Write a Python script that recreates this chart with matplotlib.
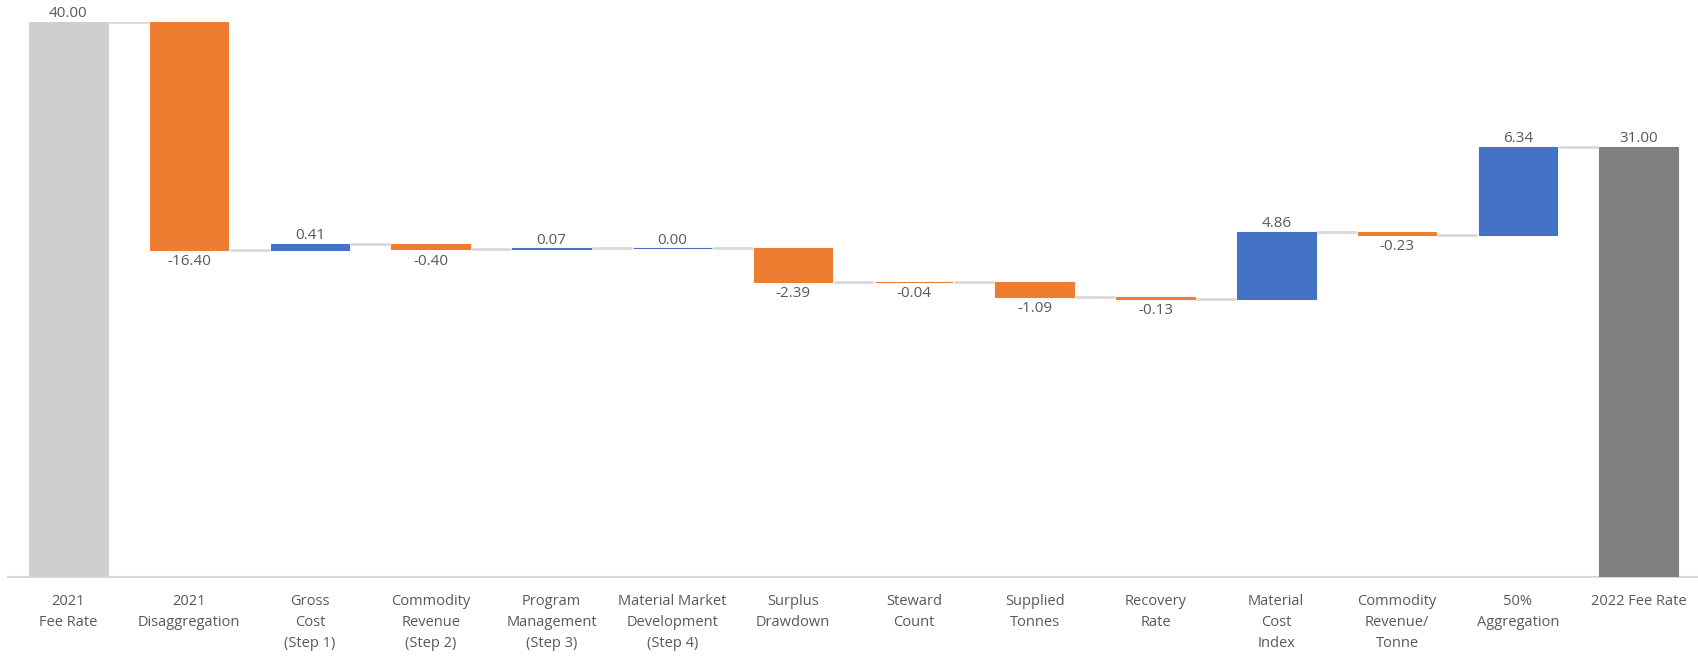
import matplotlib
matplotlib.use("Agg")
import matplotlib.pyplot as plt
import numpy as np

categories = ["2021\nFee Rate", "2021\nDisaggregation", "Gross\nCost\n(Step 1)",
              "Commodity\nRevenue\n(Step 2)", "Program\nManagement\n(Step 3)",
              "Material Market\nDevelopment\n(Step 4)", "Surplus\nDrawdown",
              "Steward\nCount", "Supplied\nTonnes", "Recovery\nRate",
              "Material\nCost\nIndex", "Commodity\nRevenue/\nTonne",
              "50%\nAggregation", "2022 Fee Rate"]
start_value = 40.00
changes = [-16.40, 0.41, -0.40, 0.07, 0.00, -2.39, -0.04, -1.09, -0.13, 4.86, -0.23, 6.34]
end_value = 31.00

c_start = "#D0CECE"
c_dec = "#ED7D31"
c_inc = "#4472C4"
c_end = "#7F7F7F"
c_text = "#595959"

plt.rcParams['font.family'] = ['Open Sans', 'DejaVu Sans']

fig = plt.figure(figsize=(16.99, 6.6), dpi=100)
ax = fig.add_axes([8/1699, 83/660, 1 - 8/1699, (577-22)/660])

n = len(categories)
x = np.arange(n)
w = 0.65

bottoms = []
heights = []
colors = []
labels = []
tops_level = []

bottoms.append(0); heights.append(start_value); colors.append(c_start); labels.append(start_value)
level = start_value
tops_level.append(level)
for d in changes:
    if d >= 0:
        bottoms.append(level); heights.append(d); colors.append(c_inc)
    else:
        bottoms.append(level + d); heights.append(-d); colors.append(c_dec)
    labels.append(d)
    level += d
    tops_level.append(level)
bottoms.append(0); heights.append(end_value); colors.append(c_end); labels.append(end_value)
tops_level.append(end_value)

for i in range(n):
    ax.bar(x[i], heights[i], bottom=bottoms[i], width=w, color=colors[i],
           edgecolor=colors[i], linewidth=0.8, zorder=3)

for i in range(n - 1):
    lvl = tops_level[i]
    ax.plot([x[i] + w/2 + 0.01, x[i+1] - w/2 - 0.01], [lvl, lvl], color="#D9D9D9",
            lw=2.0, zorder=2, solid_capstyle="butt")

for i in range(n):
    v = labels[i]
    top = bottoms[i] + heights[i]
    if v >= 0:
        ax.annotate(f"{v:.2f}", (x[i], top), xytext=(0, 0.5), textcoords="offset points",
                    ha="center", va="bottom", fontsize=11, color=c_text, annotation_clip=False)
    else:
        ax.annotate(f"{v:.2f}", (x[i], bottoms[i]), xytext=(0, -3), textcoords="offset points",
                    ha="center", va="top", fontsize=11, color=c_text, annotation_clip=False)

ax.set_xlim(-0.5, n - 0.5)
ax.set_ylim(0, 40)
ax.set_xticks(x)
ax.set_xticklabels(categories, fontsize=10.5, color=c_text, linespacing=1.55, va="top")
ax.tick_params(axis="x", length=0, pad=12)
ax.set_yticks([])
for s in ["top", "right", "left"]:
    ax.spines[s].set_visible(False)
ax.spines["bottom"].set_color("#D9D9D9")
ax.spines["bottom"].set_linewidth(1.5)

fig.savefig("out.png", dpi=100)
